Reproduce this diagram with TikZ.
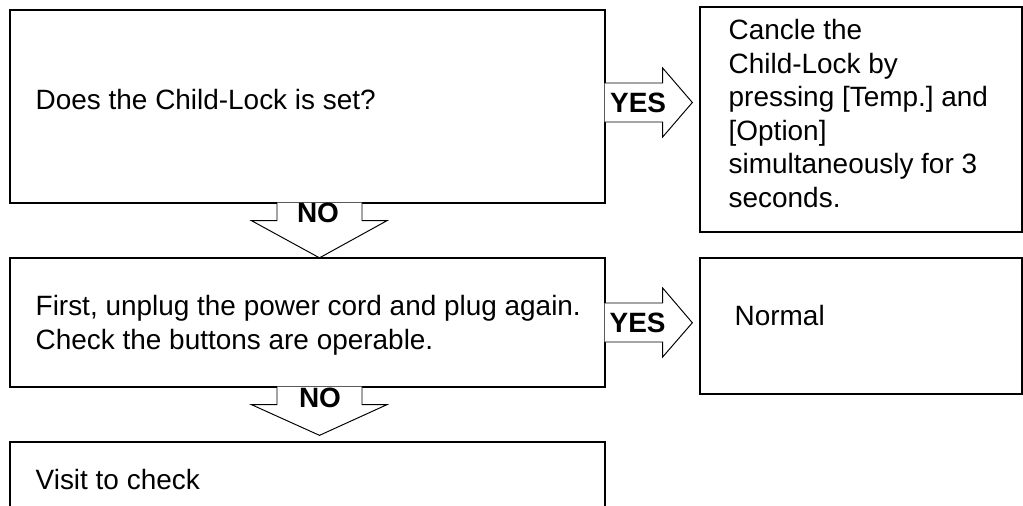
\documentclass[tikz,border=0pt]{standalone}
\usepackage{fontspec}
\setmainfont{Liberation Sans}
\usetikzlibrary{calc}

\begin{document}
\begin{tikzpicture}[
      box/.style={rectangle, draw=black, line width=0.75pt, inner sep=0pt},
      txt/.style={inner sep=0pt, align=left, anchor=base west, font=\fontsize{15.9}{19.1}\selectfont\frenchspacing},
      lbl/.style={inner sep=0pt, font=\fontsize{15.9}{19.1}\selectfont\bfseries},
      blk/.style={draw=black, line width=0.55pt, fill=white, line join=miter}
    ]
      \useasboundingbox (0,0) rectangle (20.46,-10.1);
      \clip (0,0) rectangle (20.46,-10.1);

      % Left Column: checks
      \node[box, minimum width=11.9cm, minimum height=3.86cm] (q1) at (6.15,-2.13) {};
      \node[box, minimum width=11.9cm, minimum height=2.58cm] (unplug) at (6.15,-6.45) {};
      \node[box, minimum width=11.9cm, minimum height=2.58cm] (visit) at (6.15,-10.13) {};

      % Right Column: results
      \node[box, minimum width=6.44cm, minimum height=4.5cm] (cancel) at (17.22,-2.39) {};
      \node[box, minimum width=6.44cm, minimum height=2.72cm] (normal) at (17.22,-6.52) {};

      % Box Texts (base = last line)
      \node[txt] (q1txt) at ($(q1.west)+(0.52,-0.05)$) {Does the Child-Lock is set?};
      \node[txt] (unplugtxt) at ($(unplug.north west)+(0.52,-1.84)$) {First, unplug the power cord and plug again.\\Check the buttons are operable.};
      \node[txt] (visittxt) at ($(visit.north west)+(0.52,-0.96)$) {Visit to check};
      \node[txt] (canceltxt) at ($(cancel.north west)+(0.58,-4.02)$) {Cancle the\\Child-Lock by\\pressing [Temp.] and\\{}[Option]\\simultaneously for 3\\seconds.};
      \node[txt] (normaltxt) at ($(normal.north west)+(0.70,-1.36)$) {Normal};

      % YES Arrows
      \draw[blk] ($(q1.east)+(-0.02,0.47)$) -- ++(1.16,0) -- ++(0,0.3) -- ($(cancel.west)+(-0.14,0.34)$)
        -- ($(q1.east)+(1.14,-0.61)$) -- ++(0,0.3) -- ++(-1.16,0);
      \node[lbl] (yes1) at ($(q1.east)+(0.65,0.07)$) {YES};
      \draw[blk] ($(unplug.east)+(-0.02,0.39)$) -- ++(1.16,0) -- ++(0,0.3) -- ($(normal.west)+(-0.14,0.065)$)
        -- ($(unplug.east)+(1.14,-0.69)$) -- ++(0,0.3) -- ++(-1.16,0);
      \node[lbl] (yes2) at ($(unplug.east)+(0.64,0)$) {YES};

      % NO Arrows
      \draw[blk] ($(q1.south)+(-0.61,0.02)$) -- ++(0,-0.36) -- ++(-0.51,0) -- ($(unplug.north)+(0.24,-0.01)$)
        -- ($(q1.south)+(1.59,-0.34)$) -- ++(-0.5,0) -- ++(0,0.36);
      \node[lbl] (no1) at ($(q1.south)+(0.21,-0.18)$) {NO};
      \draw[blk] ($(unplug.south)+(-0.61,0.02)$) -- ++(0,-0.36) -- ++(-0.51,0) -- ($(visit.north)+(0.24,0.12)$)
        -- ($(unplug.south)+(1.59,-0.34)$) -- ++(-0.5,0) -- ++(0,0.36);
      \node[lbl] (no2) at ($(unplug.south)+(0.25,-0.20)$) {NO};
    \end{tikzpicture}
\end{document}
